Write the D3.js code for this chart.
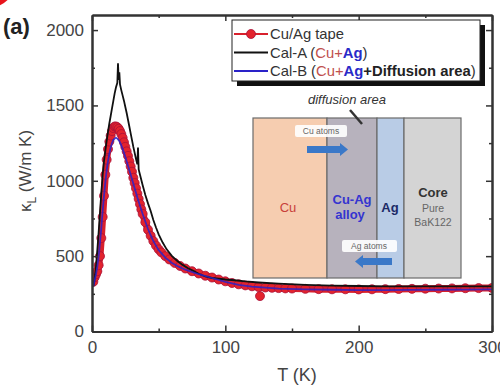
<!DOCTYPE html>
<html>
<head>
<meta charset="utf-8">
<script src="https://cdn.jsdelivr.net/npm/d3@7"></script>
<style>
	body { margin: 0; background: white; }
	svg { font-family: 'Liberation Sans', Arial, sans-serif; }
</style>
</head>
<body>
<div id="chart"></div>
<script>
// Cu/Ag tape (measured, red symbols)
const tapeT = [1,2,3,4,5,6,7,8,9,10,11,12,13,14,15,16,17,18,19,20,21,22,23,24,25,26,27,28,29,30,31,32,33,34,35,36,37,38,40,42,44,46,48,50,52,55,58,62,66,70,75,80,85,90,95,100,105,110,115,120,125,130,135,140,145,150,160,170,180,190,200,210,220,230,240,250,260,270,280,290,300];
const tapeK = [330,360,380,400,440,500,620,760,900,1040,1140,1210,1260,1300,1330,1350,1360,1360,1355,1345,1330,1310,1285,1255,1225,1195,1165,1130,1095,1060,1020,985,950,915,880,845,810,780,725,675,635,600,570,545,525,500,478,455,435,418,400,385,370,358,345,333,322,313,306,300,295,292,290,288,286,285,283,281,280,280,279,280,281,282,283,284,285,286,287,288,289];
const tapeOutT = [126];
const tapeOutK = [235];

// Cal-A (Cu+Ag)
const calAT = [1,2,3,4,5,6,7,8,9,10,11,12,13,14,15,16,17,18,19,19.5,20,20.5,21,22,23,24,25,26,27,28,29,30,31,32,33,34,34.5,35,36,38,40,42,44,46,48,50,53,56,60,64,68,72,76,80,85,90,95,100,107,115,125,140,160,180,200,220,240,260,280,300];
const calAK = [300,350,430,540,660,790,920,1040,1130,1200,1265,1325,1380,1430,1480,1530,1580,1620,1650,1780,1670,1720,1640,1600,1565,1530,1490,1450,1405,1360,1315,1270,1225,1185,1145,1110,1220,1075,1040,970,905,850,800,740,690,645,590,545,500,468,442,420,402,383,365,355,350,345,340,332,325,317,310,305,302,300,300,300,300,300];

// Cal-B (Cu+Ag+Diffusion area)
const calBT = [1,2,3,4,5,6,7,8,9,10,11,12,13,14,15,16,17,18,19,20,21,22,23,24,25,26,27,28,29,30,32,34,36,38,40,42,44,46,48,50,55,60,65,70,80,90,100,110,120,140,160,180,200,220,240,260,280,300];
const calBK = [300,340,380,430,500,590,690,800,900,990,1070,1130,1180,1220,1250,1270,1280,1285,1280,1270,1255,1235,1210,1185,1160,1130,1100,1070,1040,1010,950,890,835,780,730,680,640,600,570,540,490,455,430,410,380,355,330,310,298,285,280,277,275,275,276,277,278,280];

const xMajor = [0, 100, 200, 300];
const xMinor = [50, 150, 250];
const yMajor = [0, 500, 1000, 1500, 2000];
const yMinor = [250, 750, 1250, 1750];

const W = 500, H = 389;
const m = { left: 92, top: 15, right: 492, bottom: 331.5 };

const svg = d3.select('#chart').append('svg')
	.attr('width', W).attr('height', H);

const x = d3.scaleLinear().domain([0, 300]).range([m.left, m.right]);
const y = d3.scaleLinear().domain([0, 2100]).range([m.bottom, m.top]);

// red badge clipped at the corner
svg.append('circle').attr('cx', -12).attr('cy', -20).attr('r', 28).attr('fill', '#e8141c');

svg.append('text').attr('x', 3).attr('y', 34)
	.style('font-size', '22px').style('font-weight', 'bold').attr('fill', '#222')
	.text('(a)');

svg.append('clipPath').attr('id', 'plot-clip')
	.append('rect')
	.attr('x', m.left).attr('y', m.top)
	.attr('width', m.right - m.left).attr('height', m.bottom - m.top);

const plot = svg.append('g').attr('clip-path', 'url(#plot-clip)');

const zip = (ts, ks) => ts.map((t, i) => [t, ks[i]]);
const line = d3.line().x((d) => x(d[0])).y((d) => y(d[1]));

const tape = zip(tapeT, tapeK);
// dense symbols -> thick band underneath
plot.append('path').datum(tape)
	.attr('d', line).attr('fill', 'none')
	.attr('stroke', '#d8202c').attr('stroke-width', 7)
	.attr('stroke-linejoin', 'round').attr('stroke-linecap', 'round');
plot.selectAll('.dot').data(tape.concat(zip(tapeOutT, tapeOutK)))
	.enter().append('circle')
	.attr('class', 'dot')
	.attr('cx', (d) => x(d[0])).attr('cy', (d) => y(d[1]))
	.attr('r', 4.5)
	.attr('fill', '#e3232d').attr('stroke', '#a8123a').attr('stroke-width', 0.8);

plot.append('path').datum(zip(calAT, calAK))
	.attr('d', line).attr('fill', 'none')
	.attr('stroke', '#111').attr('stroke-width', 1.8);

plot.append('path').datum(zip(calBT, calBK))
	.attr('d', line).attr('fill', 'none')
	.attr('stroke', '#2a22c8').attr('stroke-width', 1.8).attr('opacity', 0.85);

// ==== axes, ticks pointing inward ====
const axisColor = '#333';
const fmt = d3.format('d');
function styleAxis(g) {
	g.select('.domain').attr('stroke', axisColor).attr('stroke-width', 2);
	g.selectAll('.tick line').attr('stroke', axisColor).attr('stroke-width', 1.5);
	g.selectAll('.tick text').attr('fill', '#444').style('font-size', '17px');
}

svg.append('g').attr('transform', `translate(0,${m.bottom})`)
	.call(d3.axisBottom(x).tickValues(xMajor).tickFormat(fmt).tickSize(-6).tickPadding(9).tickSizeOuter(0))
	.call(styleAxis);
svg.append('g').attr('transform', `translate(0,${m.bottom})`)
	.call(d3.axisBottom(x).tickValues(xMinor).tickSize(-3).tickFormat('').tickSizeOuter(0))
	.call(styleAxis);
svg.append('g').attr('transform', `translate(0,${m.top})`)
	.call(d3.axisTop(x).tickValues(xMajor).tickSize(-6).tickFormat('').tickSizeOuter(0))
	.call(styleAxis);
svg.append('g').attr('transform', `translate(0,${m.top})`)
	.call(d3.axisTop(x).tickValues(xMinor).tickSize(-3).tickFormat('').tickSizeOuter(0))
	.call(styleAxis);

svg.append('g').attr('transform', `translate(${m.left},0)`)
	.call(d3.axisLeft(y).tickValues(yMajor).tickFormat(fmt).tickSize(-6).tickPadding(8).tickSizeOuter(0))
	.call(styleAxis);
svg.append('g').attr('transform', `translate(${m.left},0)`)
	.call(d3.axisLeft(y).tickValues(yMinor).tickSize(-3).tickFormat('').tickSizeOuter(0))
	.call(styleAxis);
svg.append('g').attr('transform', `translate(${m.right},0)`)
	.call(d3.axisRight(y).tickValues(yMajor).tickSize(-6).tickFormat('').tickSizeOuter(0))
	.call(styleAxis);
svg.append('g').attr('transform', `translate(${m.right},0)`)
	.call(d3.axisRight(y).tickValues(yMinor).tickSize(-3).tickFormat('').tickSizeOuter(0))
	.call(styleAxis);

// axis titles
svg.append('text').attr('x', 297).attr('y', 381)
	.attr('text-anchor', 'middle').style('font-size', '18px').attr('fill', '#444')
	.text('T (K)');

const yl = svg.append('text')
	.attr('transform', 'translate(31,171) rotate(-90)')
	.attr('text-anchor', 'middle').style('font-size', '17px').attr('fill', '#444');
yl.append('tspan').text('κ');
yl.append('tspan').attr('dy', 5).style('font-size', '12px').text('L');
yl.append('tspan').attr('dy', -5).text(' (W/m K)');

// ==== legend ====
const lg = svg.append('g');
lg.append('rect').attr('x', 237).attr('y', 25).attr('width', 248).attr('height', 61).attr('fill', '#111');
lg.append('rect').attr('x', 232).attr('y', 20).attr('width', 248).attr('height', 61)
	.attr('fill', 'white').attr('stroke', '#222').attr('stroke-width', 1);

const rows = [34, 52.5, 71];
lg.append('line').attr('x1', 234).attr('x2', 268).attr('y1', rows[0]).attr('y2', rows[0])
	.attr('stroke', '#d8202c').attr('stroke-width', 2);
lg.append('circle').attr('cx', 251).attr('cy', rows[0]).attr('r', 4.5)
	.attr('fill', '#e3232d').attr('stroke', '#a8123a').attr('stroke-width', 0.8);
lg.append('line').attr('x1', 234).attr('x2', 268).attr('y1', rows[1]).attr('y2', rows[1])
	.attr('stroke', '#111').attr('stroke-width', 2);
lg.append('line').attr('x1', 234).attr('x2', 268).attr('y1', rows[2]).attr('y2', rows[2])
	.attr('stroke', '#2a22c8').attr('stroke-width', 2);

const legendText = [
	[['Cu/Ag tape', '#333', 'normal']],
	[['Cal-A (', '#333', 'normal'], ['Cu+', '#c0504d', 'normal'], ['Ag', '#2a2ac8', 'bold'], [')', '#333', 'normal']],
	[['Cal-B (', '#333', 'normal'], ['Cu+', '#c0504d', 'normal'], ['Ag', '#2a2ac8', 'bold'], ['+Diffusion area', '#222', 'bold'], [')', '#333', 'normal']]
];
legendText.forEach((parts, i) => {
	const t = lg.append('text').attr('x', 270).attr('y', rows[i] + 5)
		.style('font-size', '14.8px');
	parts.forEach(([s, c, w]) => {
		t.append('tspan').attr('fill', c).style('font-weight', w).text(s);
	});
});

// ==== inset: tape cross-section ====
const inset = svg.append('g');
const layers = [
	{ x0: 253, x1: 327, fill: '#f6cdb0' },
	{ x0: 327, x1: 377, fill: '#b7b2bd' },
	{ x0: 377, x1: 404, fill: '#b9cce6' },
	{ x0: 404, x1: 461, fill: '#d4d4d4' }
];
inset.selectAll('rect.layer').data(layers).enter().append('rect')
	.attr('class', 'layer')
	.attr('x', (d) => d.x0).attr('y', 118)
	.attr('width', (d) => d.x1 - d.x0).attr('height', 160)
	.attr('fill', (d) => d.fill).attr('stroke', '#6b6b6b').attr('stroke-width', 1.2);

inset.append('text').attr('x', 347).attr('y', 104)
	.attr('text-anchor', 'middle').style('font-size', '13px').style('font-style', 'italic')
	.attr('fill', '#333').text('diffusion area');
inset.append('line').attr('x1', 350).attr('y1', 110).attr('x2', 362).attr('y2', 124)
	.attr('stroke', '#333').attr('stroke-width', 2.5);

inset.append('text').attr('x', 288).attr('y', 212).attr('text-anchor', 'middle')
	.style('font-size', '13px').attr('fill', '#c8403a').text('Cu');
inset.append('text').attr('x', 352).attr('y', 204).attr('text-anchor', 'middle')
	.style('font-size', '13px').style('font-weight', 'bold').attr('fill', '#3434d0').text('Cu-Ag');
inset.append('text').attr('x', 350).attr('y', 219).attr('text-anchor', 'middle')
	.style('font-size', '13px').style('font-weight', 'bold').attr('fill', '#3434d0').text('alloy');
inset.append('text').attr('x', 390).attr('y', 212).attr('text-anchor', 'middle')
	.style('font-size', '13px').style('font-weight', 'bold').attr('fill', '#1c2a66').text('Ag');
inset.append('text').attr('x', 433).attr('y', 197).attr('text-anchor', 'middle')
	.style('font-size', '13px').style('font-weight', 'bold').attr('fill', '#333').text('Core');
inset.append('text').attr('x', 433).attr('y', 212).attr('text-anchor', 'middle')
	.style('font-size', '10.5px').attr('fill', '#666').text('Pure');
inset.append('text').attr('x', 433).attr('y', 226).attr('text-anchor', 'middle')
	.style('font-size', '10.5px').attr('fill', '#666').text('BaK122');

// atom labels and arrows
inset.append('rect').attr('x', 295).attr('y', 125).attr('width', 52).attr('height', 12)
	.attr('rx', 2).attr('fill', 'white').attr('opacity', 0.9);
inset.append('text').attr('x', 321).attr('y', 134).attr('text-anchor', 'middle')
	.style('font-size', '8.5px').attr('fill', '#666').text('Cu atoms');
inset.append('path').attr('d', 'M307,146 L340,146 L340,143 L348,149.5 L340,156 L340,153 L307,153 Z')
	.attr('fill', '#3a78c8');

inset.append('rect').attr('x', 342).attr('y', 240).attr('width', 55).attr('height', 12)
	.attr('rx', 2).attr('fill', 'white').attr('opacity', 0.9);
inset.append('text').attr('x', 369).attr('y', 249).attr('text-anchor', 'middle')
	.style('font-size', '8.5px').attr('fill', '#666').text('Ag atoms');
inset.append('path').attr('d', 'M392,258 L363,258 L363,255 L355,261.5 L363,268 L363,265 L392,265 Z')
	.attr('fill', '#3a78c8');
</script>
</body>
</html>
